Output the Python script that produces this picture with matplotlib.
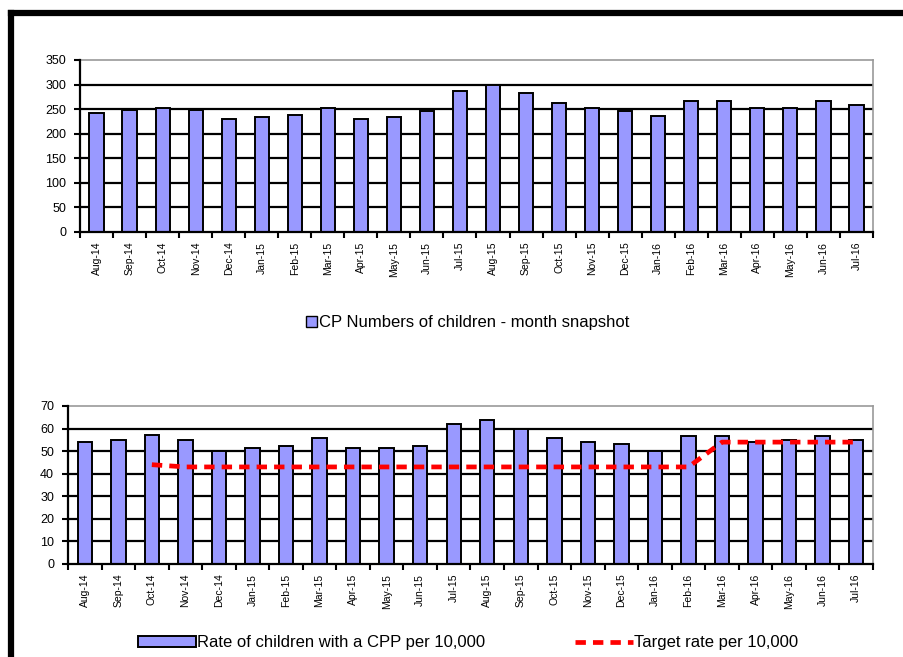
import matplotlib
matplotlib.use("Agg")
import matplotlib.pyplot as plt
import numpy as np
from matplotlib.patches import Patch
from matplotlib.lines import Line2D

plt.rcParams['font.family'] = ['Liberation Sans', 'DejaVu Sans']

months = ["Aug-14", "Sep-14", "Oct-14", "Nov-14", "Dec-14", "Jan-15", "Feb-15", "Mar-15",
          "Apr-15", "May-15", "Jun-15", "Jul-15", "Aug-15", "Sep-15", "Oct-15", "Nov-15",
          "Dec-15", "Jan-16", "Feb-16", "Mar-16", "Apr-16", "May-16", "Jun-16", "Jul-16"]

cp_numbers = [242, 249, 253, 249, 230, 233, 238, 253, 230, 233, 247, 286,
              299, 282, 262, 253, 247, 237, 266, 266, 253, 253, 266, 258]

cpp_rate = [54, 55, 57, 55, 50, 51.3, 52.4, 55.8, 51.3, 51.3, 52.3, 62.2,
            63.8, 60, 55.7, 54, 53.3, 50.2, 56.7, 56.7, 54.2, 55, 56.7, 55]

target_rate = [np.nan, np.nan, 44, 43, 43, 43, 43, 43, 43, 43, 43, 43,
               43, 43, 43, 43, 43, 43, 43, 54, 54, 54, 54, 54]

BAR_COLOR = "#9999FF"
W, H = 904, 657
fig = plt.figure(figsize=(W / 100, H / 100), dpi=100)


def px_axes(left, right, top, bottom):
    return fig.add_axes([left / W, (H - bottom) / H, (right - left) / W, (bottom - top) / H])


def style_axes(ax, ymax, ystep):
    x = np.arange(len(months))
    ax.set_xlim(-0.5, len(months) - 0.5)
    ax.set_ylim(0, ymax)
    ax.set_yticks(np.arange(0, ymax + 1, ystep))
    for v in np.arange(ystep, ymax, ystep):
        ax.axhline(v, color="black", lw=1.6, zorder=1)
    ax.set_xticks(x)
    ax.set_xticklabels(months, rotation=90, fontsize=7.5)
    ax.set_xticks(np.arange(-0.5, len(months), 1), minor=True)
    ax.tick_params(axis="x", which="major", length=0, pad=7)
    ax.tick_params(axis="x", which="minor", length=4, width=1.5, direction="out")
    ax.tick_params(axis="y", length=4, width=1.5, direction="out", labelsize=9, pad=6)
    for s in ("top", "right"):
        ax.spines[s].set_color("#999999")
        ax.spines[s].set_linewidth(1.2)
    for s in ("left", "bottom"):
        ax.spines[s].set_color("black")
        ax.spines[s].set_linewidth(1.6)
        ax.spines[s].set_zorder(4)


# Top chart
ax1 = px_axes(80, 873, 60, 232)
x = np.arange(len(months))
ax1.bar(x, cp_numbers, width=0.43, color=BAR_COLOR, edgecolor="black", linewidth=1.4, zorder=3)
style_axes(ax1, 350, 50)
fig.legend(handles=[Patch(facecolor=BAR_COLOR, edgecolor="black", linewidth=1.0,
                          label="CP Numbers of children - month snapshot")],
           loc="center", bbox_to_anchor=(468 / W, (H - 323) / H), frameon=False,
           fontsize=12, handlelength=0.65, handleheight=0.65, handletextpad=0.15)

# Bottom chart
ax2 = px_axes(68, 873, 406, 564)
ax2.bar(x, cpp_rate, width=0.43, color=BAR_COLOR, edgecolor="black", linewidth=1.4, zorder=3)
ax2.plot(x, target_rate, color="#FF0000", lw=3.4, linestyle=(0, (2.2, 1.5)), zorder=5)
style_axes(ax2, 70, 10)
fig.legend(handles=[Patch(facecolor=BAR_COLOR, edgecolor="black", linewidth=1.4,
                          label="Rate of children with a CPP per 10,000"),
                    Line2D([], [], color="#FF0000", lw=3.4, linestyle=(0, (2.2, 1.5)),
                           label="Target rate per 10,000")],
           loc="center", bbox_to_anchor=(468 / W, (H - 643) / H), frameon=False, ncol=2,
           fontsize=12, handlelength=3.5, handleheight=0.6, handletextpad=0.05,
           columnspacing=5.4)

# Outer frame (left and top black borders)
fig.add_artist(Line2D([11 / W, 11 / W], [0, (H - 13) / H], color="black", lw=4.5,
                      transform=fig.transFigure, solid_capstyle="projecting"))
fig.add_artist(Line2D([11 / W, 1.0], [(H - 13) / H, (H - 13) / H], color="black", lw=4.5,
                      transform=fig.transFigure, solid_capstyle="projecting"))

fig.savefig("out.png", dpi=100)
